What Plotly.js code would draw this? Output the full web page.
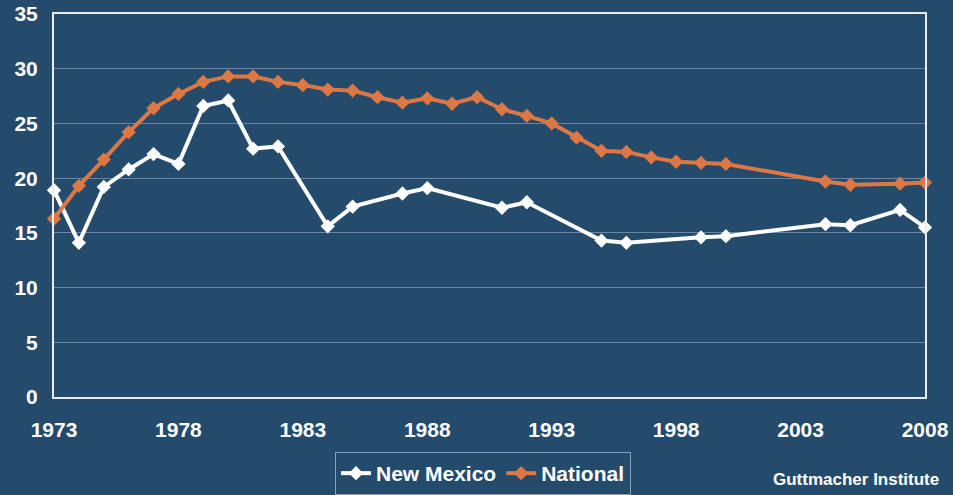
<!DOCTYPE html>
<html>
<head>
<meta charset="utf-8">
<script src="https://cdn.plot.ly/plotly-3.0.1.min.js"></script>
<style>html,body{margin:0;padding:0;background:#244b6b;}#chart{width:953px;height:495px;}</style>
</head>
<body>
<div id="chart"></div>
<script>
const nmYears = [1973,1974,1975,1976,1977,1978,1979,1980,1981,1982,1984,1985,1987,1988,1991,1992,1995,1996,1999,2000,2004,2005,2007,2008];
const nmValues = [18.9,14.1,19.2,20.8,22.2,21.3,26.6,27.1,22.7,22.9,15.6,17.4,18.6,19.1,17.3,17.8,14.3,14.1,14.6,14.7,15.8,15.7,17.1,15.5];
const natYears = [1973,1974,1975,1976,1977,1978,1979,1980,1981,1982,1983,1984,1985,1986,1987,1988,1989,1990,1991,1992,1993,1994,1995,1996,1997,1998,1999,2000,2004,2005,2007,2008];
const natValues = [16.3,19.3,21.7,24.2,26.4,27.7,28.8,29.3,29.3,28.8,28.5,28.1,28.0,27.4,26.9,27.3,26.8,27.4,26.3,25.7,25.0,23.7,22.5,22.4,21.9,21.5,21.4,21.3,19.7,19.4,19.5,19.6];
const xTicks = [1973,1978,1983,1988,1993,1998,2003,2008];
const yTicks = [0,5,10,15,20,25,30,35];
const seriesNames = ["New Mexico","National"];
const sourceText = "Guttmacher Institute";

const FONT = "Liberation Sans, Arial, sans-serif";
const traces = [
  {x: nmYears, y: nmValues, name: seriesNames[0], type: "scatter", mode: "lines+markers",
   line: {color: "#ffffff", width: 4}, marker: {symbol: "diamond", size: 11, color: "#ffffff"}, cliponaxis: false},
  {x: natYears, y: natValues, name: seriesNames[1], type: "scatter", mode: "lines+markers",
   line: {color: "#dd7744", width: 4}, marker: {symbol: "diamond", size: 11, color: "#dd7744"}, cliponaxis: false}
];
// paper spans y 14..495 (481 px); plot area bottom at 399
const layout = {
  width: 953, height: 495,
  paper_bgcolor: "#244b6b", plot_bgcolor: "#244b6b",
  margin: {l: 54, r: 28, t: 14, b: 0},
  font: {family: FONT, color: "#ffffff", size: 21, weight: "bold"},
  showlegend: true,
  legend: {orientation: "h", x: 0.4925, xanchor: "center", y: 0.0832, yanchor: "top",
    bordercolor: "#8ba0b4", borderwidth: 1, bgcolor: "rgba(0,0,0,0)",
    font: {family: FONT, size: 21, color: "#ffffff", weight: "bold"}, tracegroupgap: 0},
  xaxis: {range: [1973, 2008], tickvals: xTicks, ticktext: xTicks.map(String), showgrid: false,
    zeroline: false, showline: true, linecolor: "#e6ecf2", linewidth: 2, mirror: true, automargin: false,
    ticks: "", ticklabelstandoff: 13, tickfont: {family: FONT, size: 21, color: "#ffffff", weight: "bold"}},
  yaxis: {range: [0, 35], domain: [0.1985, 1], tickvals: yTicks, ticktext: yTicks.map(String), showgrid: true,
    gridcolor: "#6a86a0", gridwidth: 1, zeroline: false, showline: true, linecolor: "#e6ecf2",
    linewidth: 2, mirror: true, ticks: "", ticklabelstandoff: 10, automargin: false,
    tickfont: {family: FONT, size: 21, color: "#ffffff", weight: "bold"}},
  annotations: [{text: sourceText, xref: "paper", yref: "paper", x: 1.018, xanchor: "right",
    y: 0.002, yanchor: "bottom", showarrow: false,
    font: {family: FONT, size: 17, color: "#ffffff", weight: "bold"}}]
};
Plotly.newPlot("chart", traces, layout, {displayModeBar: false, staticPlot: true});
</script>
</body>
</html>
